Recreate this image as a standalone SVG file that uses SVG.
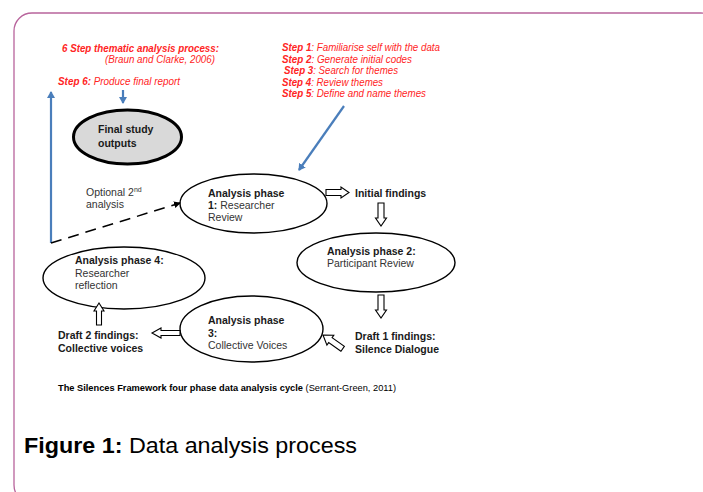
<svg xmlns="http://www.w3.org/2000/svg" width="703" height="492" viewBox="0 0 703 492">
<style>
.red{fill:#ff2424;font-family:"Liberation Sans",Arial,sans-serif;font-style:italic;font-size:10px}
.redb{font-weight:bold}
.lbl{fill:#1a1a1a;font-family:"Liberation Sans",Arial,sans-serif;font-size:10.5px}
.b{font-weight:bold}
.norm{fill:#333}
.oval{fill:#fff;stroke:#000;stroke-width:1.4}
.hollow{fill:#fff;stroke:#000;stroke-width:1.1;stroke-linejoin:miter}
.blue{stroke:#4a7ebb;stroke-width:2.2;fill:none}
</style>
<defs>
<marker id="bh" markerWidth="8" markerHeight="8" refX="6" refY="4" orient="auto" markerUnits="userSpaceOnUse">
<path d="M0,0 L7,4 L0,8 Z" fill="#4a7ebb"/>
</marker>
<marker id="kh" markerWidth="8" markerHeight="8" refX="6" refY="4" orient="auto" markerUnits="userSpaceOnUse">
<path d="M0,0.5 L7,4 L0,7.5 Z" fill="#000"/>
</marker>
</defs>
<rect width="703" height="492" fill="#fff"/>
<rect x="14" y="13" width="705" height="490" rx="18" ry="18" fill="none" stroke="#b8649c" stroke-width="1.3"/>

<g id="header">
<text class="red redb" x="62" y="52" textLength="157" lengthAdjust="spacingAndGlyphs">6 Step thematic analysis process:</text>
<text class="red" x="105" y="63" textLength="110" lengthAdjust="spacingAndGlyphs">(Braun and Clarke, 2006)</text>
<text class="red" x="58" y="85" textLength="122" lengthAdjust="spacingAndGlyphs"><tspan class="redb">Step 6:</tspan> Produce final report</text>
</g>
<g id="steps">
<text class="red" x="282" y="51" textLength="158" lengthAdjust="spacingAndGlyphs"><tspan class="redb">Step 1</tspan>: Familiarise self with the data</text>
<text class="red" x="282" y="63" textLength="130" lengthAdjust="spacingAndGlyphs"><tspan class="redb">Step 2</tspan>: Generate initial codes</text>
<text class="red" x="284" y="74" textLength="114" lengthAdjust="spacingAndGlyphs"><tspan class="redb">Step 3</tspan>: Search for themes</text>
<text class="red" x="282" y="86" textLength="101" lengthAdjust="spacingAndGlyphs"><tspan class="redb">Step 4</tspan>: Review themes</text>
<text class="red" x="282" y="97" textLength="144" lengthAdjust="spacingAndGlyphs"><tspan class="redb">Step 5</tspan>: Define and name themes</text>
</g>

<g id="final">
<ellipse cx="127.5" cy="137" rx="54" ry="27" fill="#d9d9d9" stroke="#000" stroke-width="3"/>
<text class="lbl b" x="98" y="133" font-size="11.5">Final study</text>
<text class="lbl b" x="98" y="147" font-size="11.5">outputs</text>
</g>

<g id="phase1">
<ellipse class="oval" cx="253.5" cy="203.5" rx="73.5" ry="29.5"/>
<text class="lbl b" x="208" y="197">Analysis phase</text>
<text class="lbl" x="208" y="209"><tspan class="b">1:</tspan><tspan class="norm"> Researcher</tspan></text>
<text class="lbl norm" x="208" y="221">Review</text>
</g>
<g id="initial">
<text class="lbl b" x="355" y="197">Initial findings</text>
</g>
<g id="phase2">
<ellipse class="oval" cx="376" cy="262.5" rx="79" ry="29.5"/>
<text class="lbl b" x="327" y="255">Analysis phase 2:</text>
<text class="lbl norm" x="327" y="267">Participant Review</text>
</g>
<g id="draft1">
<text class="lbl b" x="355" y="340">Draft 1 findings:</text>
<text class="lbl b" x="355" y="353">Silence Dialogue</text>
</g>
<g id="phase3">
<ellipse class="oval" cx="251.5" cy="329" rx="71.5" ry="33"/>
<text class="lbl b" x="208" y="324">Analysis phase</text>
<text class="lbl b" x="208" y="337">3:</text>
<text class="lbl norm" x="208" y="349">Collective Voices</text>
</g>
<g id="draft2">
<text class="lbl b" x="58" y="339">Draft 2 findings:</text>
<text class="lbl b" x="58" y="352">Collective voices</text>
</g>
<g id="phase4">
<ellipse class="oval" cx="124" cy="278" rx="81" ry="31"/>
<text class="lbl b" x="75" y="264">Analysis phase 4:</text>
<text class="lbl norm" x="75" y="277">Researcher</text>
<text class="lbl norm" x="75" y="289">reflection</text>
</g>
<g id="optional">
<text class="lbl norm" x="86" y="196">Optional 2<tspan font-size="7" dy="-4">nd</tspan></text>
<text class="lbl norm" x="86" y="208">analysis</text>
</g>

<g id="connectors">
<line class="blue" x1="123" y1="90" x2="123" y2="103" marker-end="url(#bh)"/>
<line class="blue" x1="51" y1="243" x2="51" y2="92" marker-end="url(#bh)"/>
<line class="blue" x1="344" y1="106" x2="299" y2="170" marker-end="url(#bh)"/>
<line x1="51" y1="243" x2="180" y2="203" stroke="#000" stroke-width="1.5" stroke-dasharray="11,7" marker-end="url(#kh)"/>
<polygon class="hollow" points="326,189.5 341,189.5 341,187 349,192.5 341,198 341,195.5 326,195.5"/>
<polygon class="hollow" points="378,203 384,203 384,218 386.5,218 381,226 375.5,218 378,218"/>
<polygon class="hollow" points="378,295 384,295 384,310 386.5,310 381,318 375.5,310 378,310"/>
<polygon class="hollow" transform="translate(323,335) rotate(215)" points="-24,-3 -9,-3 -9,-6 0,0 -9,6 -9,3 -24,3"/>
<polygon class="hollow" points="180,330.5 161,330.5 161,328 152,333 161,338 161,335.5 180,335.5"/>
<polygon class="hollow" points="96.5,325 96.5,311 94,311 99,303 104,311 101.5,311 101.5,325"/>
</g>

<g id="caption">
<text x="58" y="391" font-family="'Liberation Sans',Arial,sans-serif" font-size="8.5" fill="#000" textLength="338" lengthAdjust="spacingAndGlyphs"><tspan font-weight="bold">The Silences Framework four phase data analysis cycle</tspan> (Serrant-Green, 2011)</text>
<text x="24" y="453" font-family="'Liberation Sans',Arial,sans-serif" font-size="22.5" fill="#000" textLength="333" lengthAdjust="spacingAndGlyphs"><tspan font-weight="bold">Figure 1:</tspan> Data analysis process</text>
</g>
</svg>
